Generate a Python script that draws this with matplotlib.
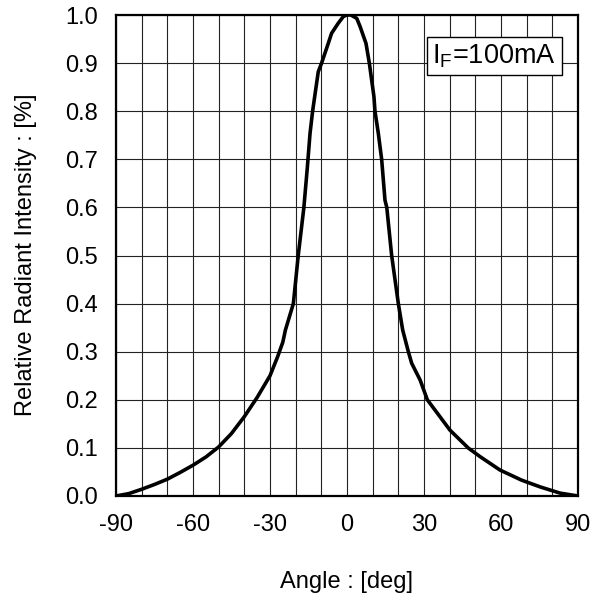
import matplotlib.pyplot as plt
from matplotlib.ticker import MultipleLocator

plt.rcParams['font.family'] = ['Liberation Sans', 'DejaVu Sans']
plt.rcParams['mathtext.fontset'] = 'custom'
plt.rcParams['mathtext.rm'] = 'Liberation Sans'
plt.rcParams['mathtext.it'] = 'Liberation Sans'

# Radiation pattern
angle = [-90, -85, -80, -75, -70, -65, -60, -55, -50, -45, -40, -35, -30,
         -27, -25, -24, -20.9, -19, -16.8, -15.5, -14.4, -13.4, -11.2, -9.9,
         -7.3, -6, -3.4, -1.4, 0, 1.5, 3.8, 5.1, 7.4, 8.7, 10.5, 10.9, 12.2,
         13.5, 14.8, 15.5, 17.4, 20.0, 21.7, 23.9, 25.2, 28.5, 31.3, 36.2,
         40.1, 47.2, 51.8, 59.6, 68.0, 75.2, 83.0, 90]
intensity = [0.0, 0.005, 0.014, 0.024, 0.035, 0.049, 0.064, 0.081, 0.102,
             0.130, 0.165, 0.205, 0.250, 0.29, 0.32, 0.345, 0.40, 0.50, 0.60,
             0.68, 0.754, 0.80, 0.882, 0.90, 0.941, 0.962, 0.983, 0.997, 1.0,
             1.0, 0.993, 0.976, 0.941, 0.90, 0.83, 0.80, 0.754, 0.70, 0.615,
             0.60, 0.50, 0.40, 0.345, 0.30, 0.276, 0.241, 0.20, 0.165, 0.137,
             0.10, 0.082, 0.054, 0.033, 0.019, 0.006, 0.0]

x_ticks = [-90, -60, -30, 0, 30, 60, 90]
y_ticks = [0.0, 0.1, 0.2, 0.3, 0.4, 0.5, 0.6, 0.7, 0.8, 0.9, 1.0]

fig = plt.figure(figsize=(6.03, 6.02), dpi=100)
ax = fig.add_axes([116 / 603, 106 / 602, 462 / 603, 481 / 602])

ax.plot(angle, intensity, color='black', linewidth=2.6, solid_joinstyle='round')

ax.set_xlim(-90, 90)
ax.set_ylim(0, 1.0)
ax.set_xticks(x_ticks)
ax.set_xticklabels([str(t) for t in x_ticks])
ax.set_yticks(y_ticks)
ax.set_yticklabels(['%.1f' % t for t in y_ticks])
ax.xaxis.set_minor_locator(MultipleLocator(10))

ax.grid(True, which='both', axis='x', color='#222222', linewidth=0.8)
ax.grid(True, which='major', axis='y', color='#222222', linewidth=0.8)
ax.tick_params(which='both', length=0, labelsize=17, pad=13)

for s in ax.spines.values():
    s.set_linewidth(1.6)
    s.set_zorder(5)

ax.text(0.819, 0.915, r'I$_\mathrm{F}$=100mA', transform=ax.transAxes,
        ha='center', va='center', fontsize=19.5,
        bbox=dict(boxstyle='square,pad=0.2', facecolor='white',
                  edgecolor='black', linewidth=1.0))

fig.text(26 / 603, (602 - 255) / 602, 'Relative Radiant Intensity : [%]',
         rotation=90, ha='center', va='center', fontsize=17)
fig.text(347 / 603, (602 - 582) / 602, 'Angle : [deg]',
         ha='center', va='center', fontsize=17)

fig.savefig('out.png', dpi=100)
